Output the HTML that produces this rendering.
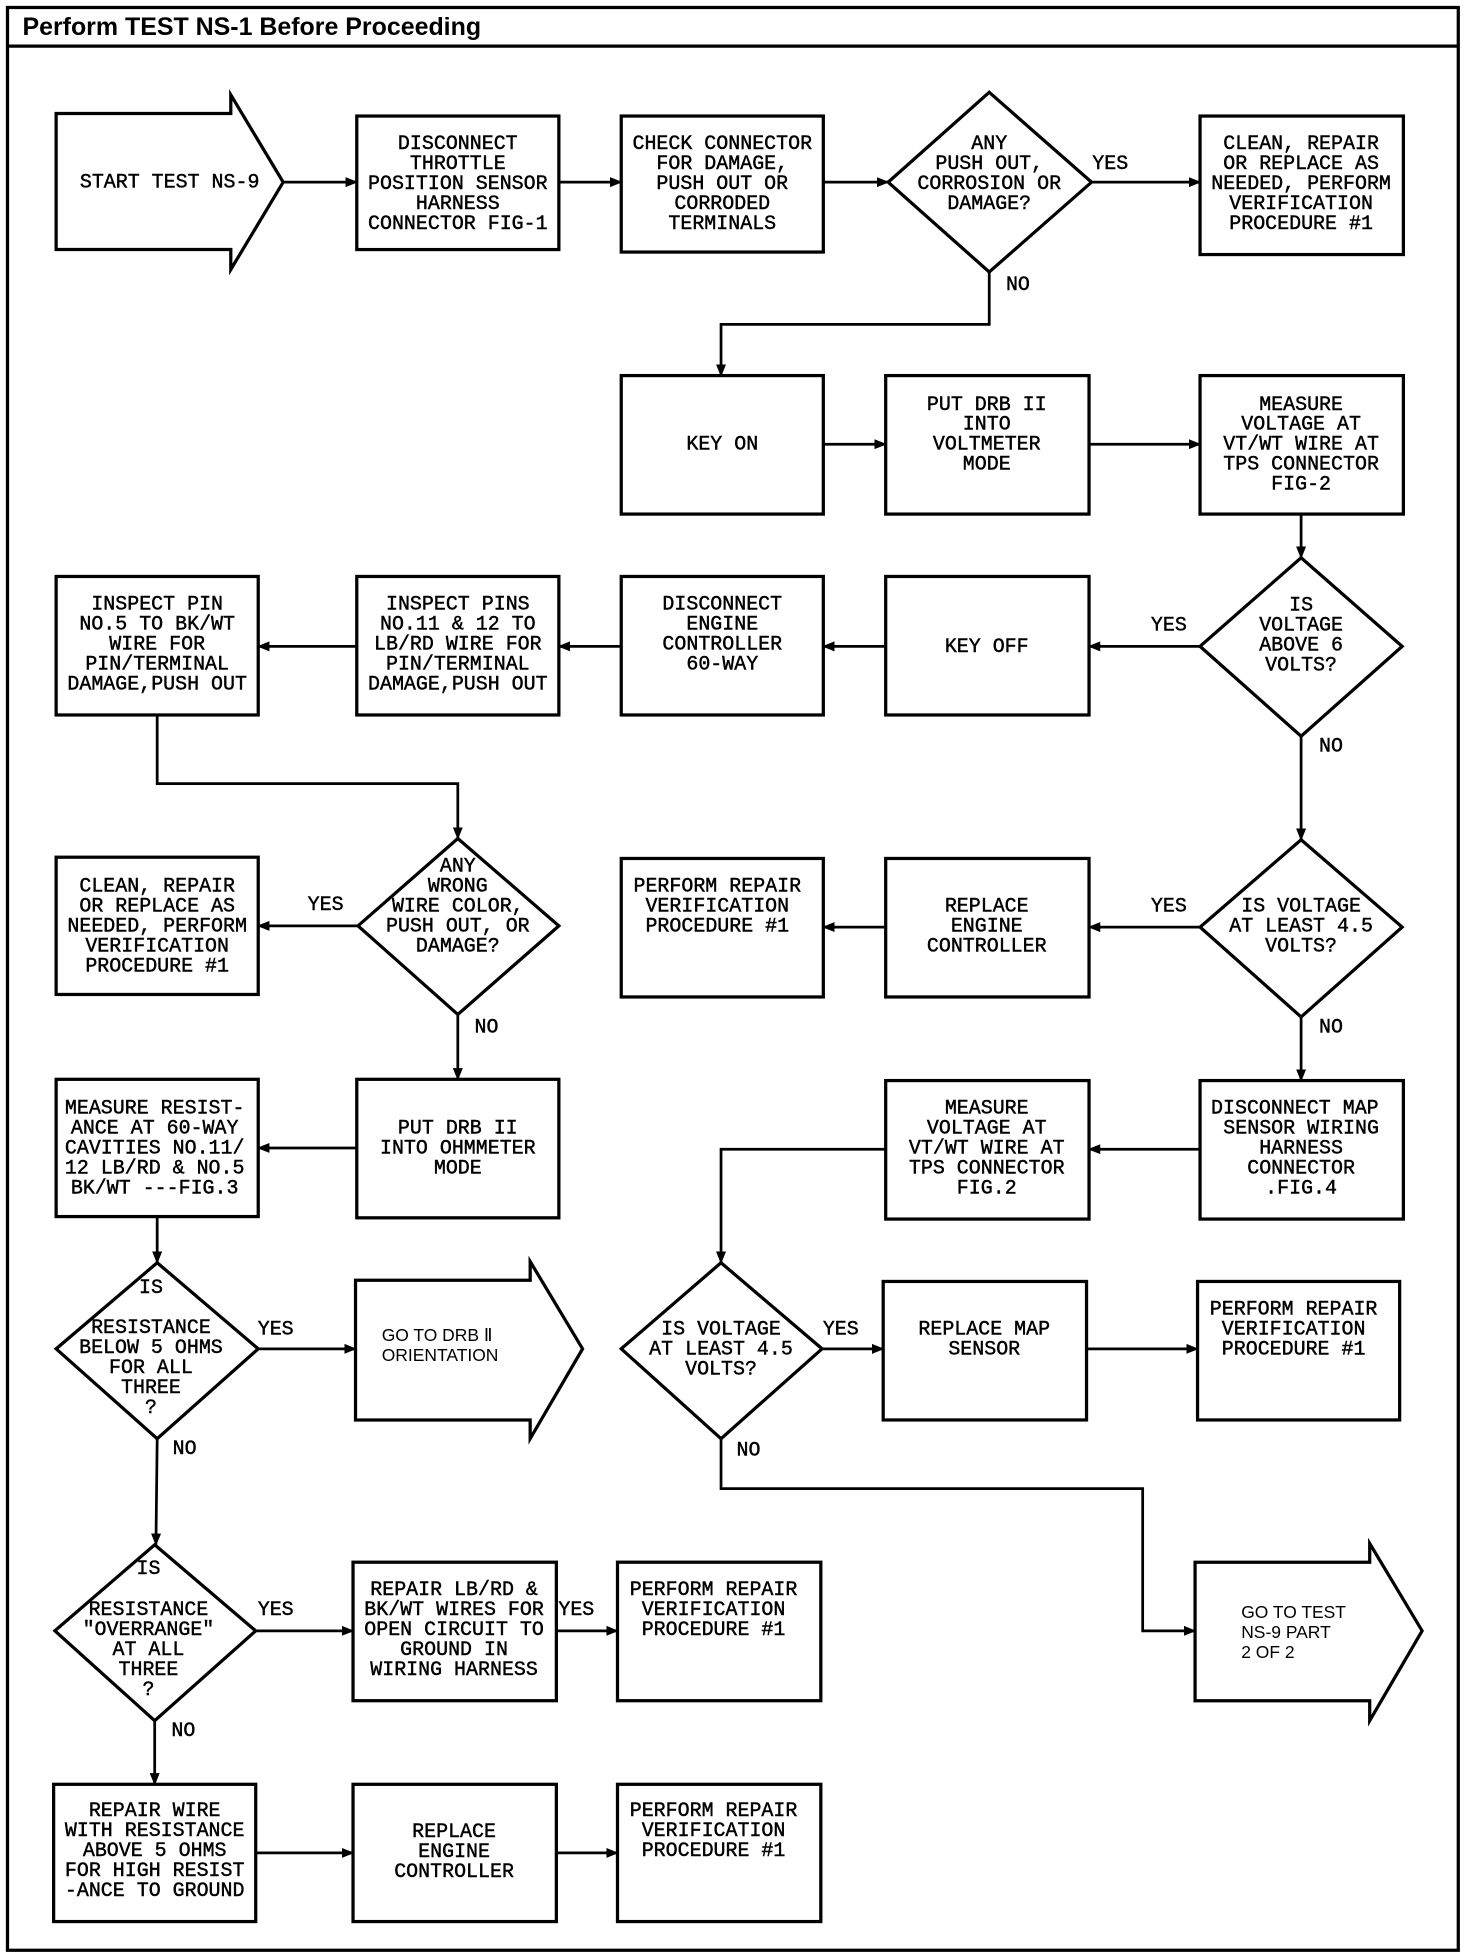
<!DOCTYPE html>
<html><head><meta charset="utf-8"><style>
html,body{margin:0;padding:0;background:#fff;}
svg{display:block;}
text{font-family:"Liberation Mono",monospace;font-size:16px;fill:#000;stroke:#000;stroke-width:0.35;}
.t{font-family:"Liberation Sans",sans-serif;font-weight:bold;font-size:20px;stroke:none;}
.s{font-family:"Liberation Sans",sans-serif;font-size:14px;stroke:none;}
</style></head><body>
<svg width="1472" height="1954" viewBox="0 0 1180 1566" preserveAspectRatio="none" xmlns="http://www.w3.org/2000/svg">
<defs><marker id="a" markerWidth="10" markerHeight="10" refX="9" refY="5" orient="auto" markerUnits="userSpaceOnUse"><path d="M0,1 L10,5 L0,9 Z" fill="#000"/></marker></defs>
<rect x="0" y="0" width="1180" height="1566" fill="#fff"/>
<g fill="none" stroke="#000" stroke-width="2.6">
<rect x="6" y="6" width="1163" height="1557"/>
<line x1="6" y1="37" x2="1169" y2="37"/>
<!-- shapes -->
<path d="M45,91 H185 V76 L227,146 L185,216 V200 H45 Z"/>
<rect x="286" y="93" width="162" height="107"/>
<rect x="498" y="93" width="162" height="109"/>
<path d="M793,74 L875,146 L793,218 L712,146 Z"/>
<rect x="962" y="93" width="163" height="111"/>
<rect x="498" y="301" width="162" height="111"/>
<rect x="710" y="301" width="163" height="111"/>
<rect x="962" y="301" width="163" height="111"/>
<path d="M1043,447 L1124,518 L1043,590 L962,518 Z"/>
<rect x="710" y="462" width="163" height="111"/>
<rect x="498" y="462" width="162" height="111"/>
<rect x="286" y="462" width="162" height="111"/>
<rect x="45" y="462" width="162" height="111"/>
<path d="M367,672 L448,742 L367,813 L287,742 Z"/>
<rect x="45" y="687" width="162" height="110"/>
<path d="M1043,673 L1124,743 L1043,815 L962,743 Z"/>
<rect x="710" y="688" width="163" height="111"/>
<rect x="498" y="688" width="162" height="111"/>
<rect x="962" y="866" width="163" height="111"/>
<rect x="710" y="866" width="163" height="111"/>
<rect x="286" y="865" width="162" height="111"/>
<rect x="45" y="865" width="162" height="110"/>
<path d="M126,1012 L207,1081 L126,1153 L45,1081 Z"/>
<path d="M285,1026 H425 V1011 L467,1081 L425,1153 V1138 H285 Z"/>
<path d="M578,1012 L659,1081 L578,1153 L498,1081 Z"/>
<rect x="708" y="1027" width="163" height="111"/>
<rect x="960" y="1027" width="162" height="111"/>
<path d="M124,1238 L205,1307 L124,1379 L44,1307 Z"/>
<rect x="283" y="1252" width="163" height="111"/>
<rect x="495" y="1252" width="163" height="111"/>
<path d="M958,1252 H1098 V1237 L1140,1307 L1098,1379 V1363 H958 Z"/>
<rect x="43" y="1430" width="162" height="110"/>
<rect x="283" y="1430" width="163" height="110"/>
<rect x="495" y="1430" width="163" height="110"/>
</g>
<g fill="none" stroke="#000" stroke-width="2.2" marker-end="url(#a)">
<line x1="227" y1="146" x2="286" y2="146"/>
<line x1="448" y1="146" x2="498" y2="146"/>
<line x1="660" y1="146" x2="712" y2="146"/>
<line x1="875" y1="146" x2="962" y2="146"/>
<polyline points="793,218 793,260 578,260 578,301"/>
<line x1="660" y1="356" x2="710" y2="356"/>
<line x1="873" y1="356" x2="962" y2="356"/>
<line x1="1043" y1="412" x2="1043" y2="447"/>
<line x1="962" y1="518" x2="873" y2="518"/>
<line x1="710" y1="518" x2="660" y2="518"/>
<line x1="498" y1="518" x2="448" y2="518"/>
<line x1="286" y1="518" x2="207" y2="518"/>
<line x1="1043" y1="590" x2="1043" y2="673"/>
<polyline points="126,573 126,628 367,628 367,672"/>
<line x1="287" y1="742" x2="207" y2="742"/>
<line x1="367" y1="813" x2="367" y2="865"/>
<line x1="962" y1="743" x2="873" y2="743"/>
<line x1="710" y1="743" x2="660" y2="743"/>
<line x1="1043" y1="815" x2="1043" y2="866"/>
<line x1="962" y1="921" x2="873" y2="921"/>
<polyline points="710,921 578,921 578,1012"/>
<line x1="286" y1="920" x2="207" y2="920"/>
<line x1="126" y1="975" x2="126" y2="1012"/>
<line x1="207" y1="1081" x2="285" y2="1081"/>
<line x1="659" y1="1081" x2="708" y2="1081"/>
<line x1="871" y1="1081" x2="960" y2="1081"/>
<polyline points="578,1153 578,1193 916,1193 916,1307 958,1307"/>
<line x1="126" y1="1153" x2="125" y2="1238"/>
<line x1="205" y1="1307" x2="283" y2="1307"/>
<line x1="446" y1="1307" x2="495" y2="1307"/>
<line x1="124" y1="1379" x2="124" y2="1430"/>
<line x1="205" y1="1485" x2="283" y2="1485"/>
<line x1="446" y1="1485" x2="495" y2="1485"/>
</g>
<text class="t" x="18" y="28">Perform TEST NS-1 Before Proceeding</text>
<g text-anchor="middle" dominant-baseline="central">
<text x="136" y="146">START TEST NS-9</text>
<text x="367" y="115">DISCONNECT</text><text x="367" y="131">THROTTLE</text><text x="367" y="147">POSITION SENSOR</text><text x="367" y="163">HARNESS</text><text x="367" y="179">CONNECTOR FIG-1</text>
<text x="579" y="115">CHECK CONNECTOR</text><text x="579" y="131">FOR DAMAGE,</text><text x="579" y="147">PUSH OUT OR</text><text x="579" y="163">CORRODED</text><text x="579" y="179">TERMINALS</text>
<text x="793" y="115">ANY</text><text x="793" y="131">PUSH OUT,</text><text x="793" y="147">CORROSION OR</text><text x="793" y="163">DAMAGE?</text>
<text x="890" y="131">YES</text><text x="816" y="228">NO</text>
<text x="1043" y="115">CLEAN, REPAIR</text><text x="1043" y="131">OR REPLACE AS</text><text x="1043" y="147">NEEDED, PERFORM</text><text x="1043" y="163">VERIFICATION</text><text x="1043" y="179">PROCEDURE #1</text>
<text x="579" y="356">KEY ON</text>
<text x="791" y="324">PUT DRB II</text><text x="791" y="340">INTO</text><text x="791" y="356">VOLTMETER</text><text x="791" y="372">MODE</text>
<text x="1043" y="324">MEASURE</text><text x="1043" y="340">VOLTAGE AT</text><text x="1043" y="356">VT/WT WIRE AT</text><text x="1043" y="372">TPS CONNECTOR</text><text x="1043" y="388">FIG-2</text>
<text x="1043" y="485">IS</text><text x="1043" y="501">VOLTAGE</text><text x="1043" y="517">ABOVE 6</text><text x="1043" y="533">VOLTS?</text>
<text x="937" y="501">YES</text><text x="1067" y="598">NO</text>
<text x="791" y="518">KEY OFF</text>
<text x="579" y="484">DISCONNECT</text><text x="579" y="500">ENGINE</text><text x="579" y="516">CONTROLLER</text><text x="579" y="532">60-WAY</text>
<text x="367" y="484">INSPECT PINS</text><text x="367" y="500">NO.11 &amp; 12 TO</text><text x="367" y="516">LB/RD WIRE FOR</text><text x="367" y="532">PIN/TERMINAL</text><text x="367" y="548">DAMAGE,PUSH OUT</text>
<text x="126" y="484">INSPECT PIN</text><text x="126" y="500">NO.5 TO BK/WT</text><text x="126" y="516">WIRE FOR</text><text x="126" y="532">PIN/TERMINAL</text><text x="126" y="548">DAMAGE,PUSH OUT</text>
<text x="367" y="694">ANY</text><text x="367" y="710">WRONG</text><text x="367" y="726">WIRE COLOR,</text><text x="367" y="742">PUSH OUT, OR</text><text x="367" y="758">DAMAGE?</text>
<text x="261" y="725">YES</text><text x="390" y="823">NO</text>
<text x="126" y="710">CLEAN, REPAIR</text><text x="126" y="726">OR REPLACE AS</text><text x="126" y="742">NEEDED, PERFORM</text><text x="126" y="758">VERIFICATION</text><text x="126" y="774">PROCEDURE #1</text>
<text x="1043" y="726">IS VOLTAGE</text><text x="1043" y="742">AT LEAST 4.5</text><text x="1043" y="758">VOLTS?</text>
<text x="937" y="726">YES</text><text x="1067" y="823">NO</text>
<text x="791" y="726">REPLACE</text><text x="791" y="742">ENGINE</text><text x="791" y="758">CONTROLLER</text>
<text x="575" y="710">PERFORM REPAIR</text><text x="575" y="726">VERIFICATION</text><text x="575" y="742">PROCEDURE #1</text>
<text x="1038" y="888">DISCONNECT MAP</text><text x="1043" y="904">SENSOR WIRING</text><text x="1043" y="920">HARNESS</text><text x="1043" y="936">CONNECTOR</text><text x="1043" y="952">.FIG.4</text>
<text x="791" y="888">MEASURE</text><text x="791" y="904">VOLTAGE AT</text><text x="791" y="920">VT/WT WIRE AT</text><text x="791" y="936">TPS CONNECTOR</text><text x="791" y="952">FIG.2</text>
<text x="367" y="904">PUT DRB II</text><text x="367" y="920">INTO OHMMETER</text><text x="367" y="936">MODE</text>
<text x="124" y="888">MEASURE RESIST-</text><text x="124" y="904">ANCE AT 60-WAY</text><text x="124" y="920">CAVITIES NO.11/</text><text x="124" y="936">12 LB/RD &amp; NO.5</text><text x="124" y="952">BK/WT ---FIG.3</text>
<text x="121" y="1032">IS</text><text x="121" y="1064">RESISTANCE</text><text x="121" y="1080">BELOW 5 OHMS</text><text x="121" y="1096">FOR ALL</text><text x="121" y="1112">THREE</text><text x="121" y="1128">?</text>
<text x="221" y="1065">YES</text><text x="148" y="1161">NO</text>
<text x="578" y="1065">IS VOLTAGE</text><text x="578" y="1081">AT LEAST 4.5</text><text x="578" y="1097">VOLTS?</text>
<text x="674" y="1065">YES</text><text x="600" y="1162">NO</text>
<text x="789" y="1065">REPLACE MAP</text><text x="789" y="1081">SENSOR</text>
<text x="1037" y="1049">PERFORM REPAIR</text><text x="1037" y="1065">VERIFICATION</text><text x="1037" y="1081">PROCEDURE #1</text>
<text x="119" y="1257">IS</text><text x="119" y="1290">RESISTANCE</text><text x="119" y="1306">"OVERRANGE"</text><text x="119" y="1322">AT ALL</text><text x="119" y="1338">THREE</text><text x="119" y="1354">?</text>
<text x="221" y="1290">YES</text><text x="147" y="1387">NO</text>
<text x="364" y="1274">REPAIR LB/RD &amp;</text><text x="364" y="1290">BK/WT WIRES FOR</text><text x="364" y="1306">OPEN CIRCUIT TO</text><text x="364" y="1322">GROUND IN</text><text x="364" y="1338">WIRING HARNESS</text>
<text x="462" y="1290">YES</text>
<text x="572" y="1274">PERFORM REPAIR</text><text x="572" y="1290">VERIFICATION</text><text x="572" y="1306">PROCEDURE #1</text>
<text x="124" y="1451">REPAIR WIRE</text><text x="124" y="1467">WITH RESISTANCE</text><text x="124" y="1483">ABOVE 5 OHMS</text><text x="124" y="1499">FOR HIGH RESIST</text><text x="124" y="1515">-ANCE TO GROUND</text>
<text x="364" y="1468">REPLACE</text><text x="364" y="1484">ENGINE</text><text x="364" y="1500">CONTROLLER</text>
<text x="572" y="1451">PERFORM REPAIR</text><text x="572" y="1467">VERIFICATION</text><text x="572" y="1483">PROCEDURE #1</text>
</g>
<g dominant-baseline="central">
<text class="s" x="306" y="1070">GO TO DRB Ⅱ</text><text class="s" x="306" y="1086">ORIENTATION</text>
<text class="s" x="995" y="1292">GO TO TEST</text><text class="s" x="995" y="1308">NS-9 PART</text><text class="s" x="995" y="1324">2 OF 2</text>
</g>
</svg>
</body></html>
